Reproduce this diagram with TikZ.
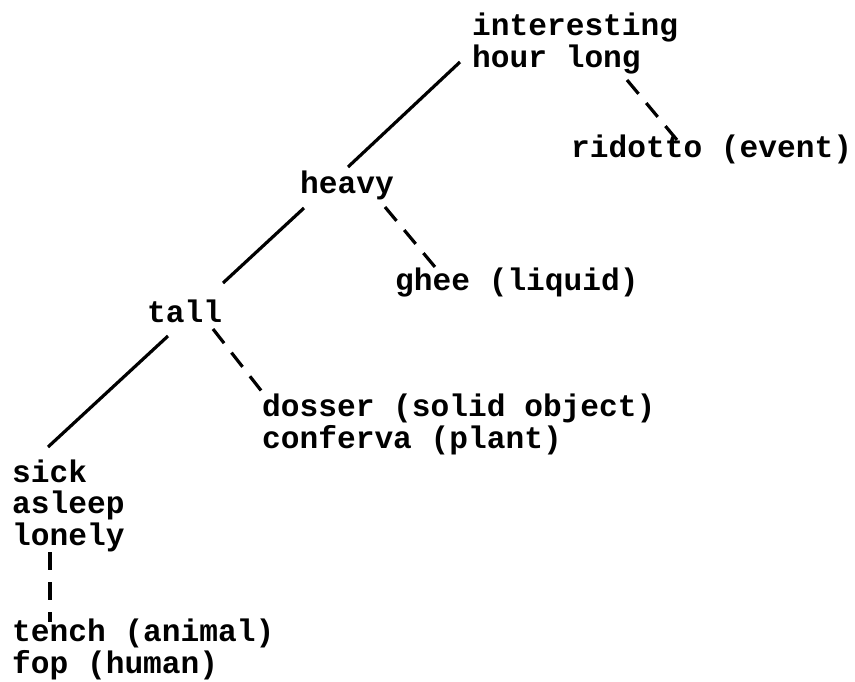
\documentclass[tikz,border=0pt]{standalone}
\usepackage{fontspec}
\newfontfamily\diagmono{Liberation Mono}
\begin{document}
\begin{tikzpicture}[x=1pt,y=-1pt,
  lbl/.style={anchor=base west,inner sep=0pt,align=left,
    font=\diagmono\bfseries\fontsize{31.2}{31.3}\selectfont},
  solidlink/.style={line width=3.2pt},
  dashlink/.style={line width=3.2pt,dash pattern=on 18pt off 12pt}]
\useasboundingbox (0,0) rectangle (855,681);
% base anchor of a multi-line node = baseline of its last line
\node[lbl] (top)    at (472,67)  {interesting\\hour long};
\node[lbl] (rid)    at (571,157) {ridotto (event)};
\node[lbl] (heavy)  at (300,193) {heavy};
\node[lbl] (ghee)   at (395,290) {ghee (liquid)};
\node[lbl] (tall)   at (147,322) {tall};
\node[lbl] (dosser) at (262,448) {dosser (solid object)\\conferva (plant)};
\node[lbl] (sick)   at (12,545)  {sick\\asleep\\lonely};
\node[lbl] (tench)  at (12,673)  {tench (animal)\\fop (human)};
\draw[solidlink] ([shift={(-12,-5)}]top.base west) -- ([shift={(48,-26)}]heavy.base west);
\draw[dashlink] ([shift={(155,13)}]top.base west) -- ([shift={(106,-17)}]rid.base west);
\draw[solidlink] ([shift={(4,15)}]heavy.base west) -- ([shift={(76,-39)}]tall.base west);
\draw[dashlink] ([shift={(85,14)}]heavy.base west) -- ([shift={(45,-17)}]ghee.base west);
\draw[solidlink] ([shift={(21,14)}]tall.base west) -- ([shift={(36,-98)}]sick.base west);
\draw[dashlink] ([shift={(66,7)}]tall.base west) -- ([shift={(1,-55)}]dosser.base west);
\draw[dashlink] ([shift={(38,7)}]sick.base west) -- ([shift={(38,-51)}]tench.base west);
\end{tikzpicture}
\end{document}
